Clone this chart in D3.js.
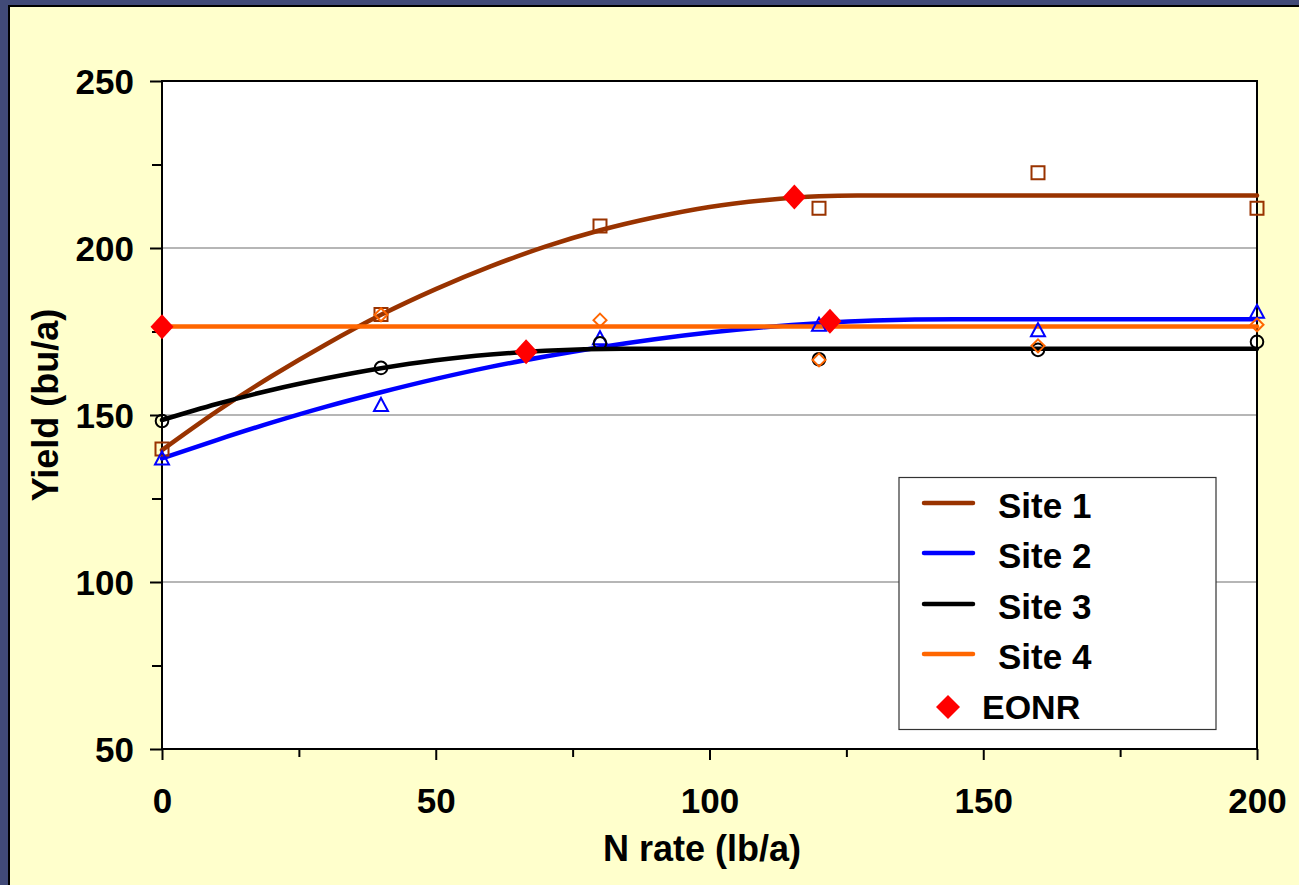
<!DOCTYPE html>
<html>
<head>
<meta charset="utf-8">
<script src="https://cdn.jsdelivr.net/npm/d3@7"></script>
<style>
  html, body { margin: 0; padding: 0; background: #414A78; }
  svg { display: block; }
  text { font-family: "Liberation Sans", Arial, sans-serif; font-weight: bold; fill: #000; }
</style>
</head>
<body>
<svg id="chart" width="1299" height="885"></svg>
<script>
// ---- Data ----
const nRates = [0, 40, 80, 120, 160, 200];
const site1Obs = [139.8, 180.1, 206.6, 211.9, 222.5, 211.9];
const site2Obs = [137.0, 153.0, 173.0, 177.0, 175.4, 180.9];
const site3Obs = [148.2, 164.1, 171.5, 166.7, 169.5, 171.9];
const site4Obs = [176.3, 180.0, 178.4, 166.5, 170.7, 177.0];

// fitted response curves
const curveX1 = [0, 10, 20, 30, 40, 50, 60, 70, 80, 90, 100, 110, 120, 127, 200];
const curveY1 = [139.5, 151.1, 161.6, 171.2, 180.0, 187.7, 194.5, 200.4, 205.3, 209.2, 212.3, 214.3, 215.5, 215.7, 215.7];
const curveX2 = [0, 10, 20, 30, 40, 50, 60, 70, 80, 90, 100, 110, 120, 130, 145, 200];
const curveY2 = [137.0, 142.5, 147.7, 152.5, 156.8, 160.8, 164.4, 167.5, 170.3, 172.7, 174.7, 176.3, 177.5, 178.3, 178.7, 178.7];
const curveX3 = [0, 10, 20, 30, 40, 50, 60, 70, 84, 200];
const curveY3 = [148.5, 153.3, 157.5, 161.0, 164.0, 166.4, 168.1, 169.2, 169.8, 169.8];
const curveX4 = [0, 200];
const curveY4 = [176.5, 176.5];

const eonrX = [0, 66.5, 115.5, 122];
const eonrY = [176.4, 168.9, 215.3, 178.1];

const seriesNames = ["Site 1", "Site 2", "Site 3", "Site 4"];
const seriesColors = ["#993300", "#0000FF", "#000000", "#FF6600"];
const markerTypes = ["square", "triangle", "circle", "diamond"];

const xTicks = [0, 50, 100, 150, 200];
const xMinorTicks = [25, 75, 125, 175];
const yTicks = [50, 100, 150, 200, 250];
const yMinorTicks = [75, 125, 175, 225];
const gridValues = [100, 150, 200];

// ---- Layout ----
const svg = d3.select("#chart");
const W = 1299, H = 885;
const L = 162, R = 1257, T = 81, B = 749;

svg.append("rect").attr("width", W).attr("height", H).attr("fill", "#414A78");
svg.append("rect").attr("x", 8).attr("y", 5).attr("width", W - 8).attr("height", H - 5).attr("fill", "#000");
svg.append("rect").attr("x", 10).attr("y", 7).attr("width", W - 10).attr("height", H - 7).attr("fill", "#FFFFCC");

const x = d3.scaleLinear().domain([0, 200]).range([L, R]);
const y = d3.scaleLinear().domain([50, 250]).range([B, T]);

// plot area
svg.append("rect").attr("x", L).attr("y", T).attr("width", R - L).attr("height", B - T).attr("fill", "#fff");

// gridlines
svg.append("g").selectAll("line").data(gridValues).join("line")
  .attr("x1", L).attr("x2", R)
  .attr("y1", d => y(d)).attr("y2", d => y(d))
  .attr("stroke", "#6e6e6e").attr("stroke-width", 1.2);

// axes
const xAxis = svg.append("g").attr("transform", `translate(0,${B})`)
  .call(d3.axisBottom(x).tickValues(xTicks).tickSize(11).tickPadding(28).tickFormat(d3.format("d")));
const xMinor = svg.append("g").attr("transform", `translate(0,${B})`)
  .call(d3.axisBottom(x).tickValues(xMinorTicks).tickSize(8).tickFormat(""));
const yAxis = svg.append("g").attr("transform", `translate(${L},0)`)
  .call(d3.axisLeft(y).tickValues(yTicks).tickSize(12).tickPadding(16).tickFormat(d3.format("d")));
const yMinor = svg.append("g").attr("transform", `translate(${L},0)`)
  .call(d3.axisLeft(y).tickValues(yMinorTicks).tickSize(10).tickFormat(""));

[xAxis, xMinor, yAxis, yMinor].forEach(g => {
  g.select(".domain").remove();
  g.selectAll(".tick line").attr("stroke", "#000").attr("stroke-width", 2);
});
xAxis.selectAll(".tick text").attr("font-size", 35).attr("font-family", "Liberation Sans, Arial, sans-serif")
  .attr("font-weight", "bold").attr("dy", "0.71em").attr("y", 39);
yAxis.selectAll(".tick text").attr("font-size", 35).attr("font-family", "Liberation Sans, Arial, sans-serif")
  .attr("font-weight", "bold").attr("x", -28).attr("dy", "0.36em");

// plot border
svg.append("rect").attr("x", L).attr("y", T).attr("width", R - L).attr("height", B - T)
  .attr("fill", "none").attr("stroke", "#000").attr("stroke-width", 2);

// curves
const curves = [[curveX1, curveY1], [curveX2, curveY2], [curveX3, curveY3], [curveX4, curveY4]];
const line = d3.line().x(d => x(d[0])).y(d => y(d[1])).curve(d3.curveMonotoneX);
const curveG = svg.append("g");
curves.forEach((c, i) => {
  const pts = c[0].map((v, j) => [v, c[1][j]]);
  curveG.append("path").attr("d", line(pts)).attr("fill", "none")
    .attr("stroke", seriesColors[i]).attr("stroke-width", 4.5).attr("stroke-linecap", "round");
});

// observed markers
function markerPath(type) {
  if (type === "square") return "M-6.5,-6.5H6.5V6.5H-6.5Z";
  if (type === "triangle") return "M0,-7L7,6H-7Z";
  if (type === "diamond") return "M0,-6.5L6.5,0L0,6.5L-6.5,0Z";
  return null;
}
const obs = [site1Obs, site2Obs, site3Obs, site4Obs];
const markG = svg.append("g");
obs.forEach((vals, i) => {
  const pts = nRates.map((v, j) => [v, vals[j]]);
  const type = markerTypes[i];
  if (type === "circle") {
    markG.append("g").selectAll("circle").data(pts).join("circle")
      .attr("cx", d => x(d[0])).attr("cy", d => y(d[1])).attr("r", 6.3)
      .attr("fill", "none").attr("stroke", seriesColors[i]).attr("stroke-width", 2);
  } else {
    markG.append("g").selectAll("path").data(pts).join("path")
      .attr("transform", d => `translate(${x(d[0])},${y(d[1])})`)
      .attr("d", markerPath(type))
      .attr("fill", "none").attr("stroke", seriesColors[i]).attr("stroke-width", 2);
  }
});

// EONR
const bigDiamond = "M0,-12.5L11.5,0L0,12.5L-11.5,0Z";
svg.append("g").selectAll("path").data(eonrX.map((v, j) => [v, eonrY[j]])).join("path")
  .attr("transform", d => `translate(${x(d[0])},${y(d[1])})`)
  .attr("d", bigDiamond).attr("fill", "#FF0000");

// axis titles
svg.append("text").attr("x", 702).attr("y", 861).attr("text-anchor", "middle")
  .attr("font-size", 36).text("N rate (lb/a)");
svg.append("text").attr("transform", "translate(58,405) rotate(-90)").attr("text-anchor", "middle")
  .attr("font-size", 36).text("Yield (bu/a)");

// legend
const lg = svg.append("g");
lg.append("rect").attr("x", 899).attr("y", 477.5).attr("width", 317).attr("height", 252)
  .attr("fill", "#fff").attr("stroke", "#333").attr("stroke-width", 1.2);
const legY = [503, 553, 604, 654];
seriesNames.forEach((name, i) => {
  lg.append("line").attr("x1", 924).attr("x2", 973).attr("y1", legY[i]).attr("y2", legY[i])
    .attr("stroke", seriesColors[i]).attr("stroke-width", 4.5).attr("stroke-linecap", "round");
  lg.append("text").attr("x", 998).attr("y", legY[i] + 15).attr("font-size", 35).text(name);
});
lg.append("path").attr("transform", "translate(948,707)")
  .attr("d", "M0,-12L12,0L0,12L-12,0Z").attr("fill", "#FF0000");
lg.append("text").attr("x", 982).attr("y", 719).attr("font-size", 34).text("EONR");
</script>
</body>
</html>
